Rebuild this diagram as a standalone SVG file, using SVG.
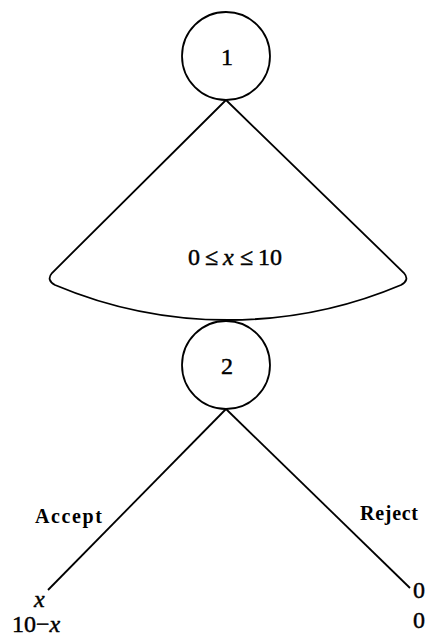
<svg xmlns="http://www.w3.org/2000/svg" width="428" height="642" viewBox="0 0 428 642">
<style>
.ln{fill:none;stroke:#000;stroke-width:1.8}
.nd{fill:#fff;stroke:#000;stroke-width:1.8}
.t{font-family:"Liberation Serif",serif;fill:#000;stroke:#000;stroke-width:0.45;font-size:24px}
.lbl{font-family:"Liberation Serif",serif;font-weight:bold;font-size:20px;fill:#000}
</style>
<rect width="428" height="642" fill="#fff"/>
<g id="connectors">
<path class="ln" d="M226,100 L52,273 Q46,280 55,285 A445,445 0 0 0 401,285 Q410,280 404,273 L226,100"/>
<line class="ln" x1="226" y1="409" x2="48" y2="590"/>
<line class="ln" x1="226" y1="409" x2="410" y2="588"/>
</g>
<g id="node1">
<circle class="nd" cx="226" cy="56" r="44"/>
<text class="t" x="227" y="65" text-anchor="middle">1</text>
</g>
<g id="fan-label">
<text class="t" y="265"><tspan x="188">0</tspan><tspan x="205">≤</tspan><tspan x="223" font-style="italic">x</tspan><tspan x="240">≤</tspan><tspan x="258">10</tspan></text>
</g>
<g id="node2">
<circle class="nd" cx="226" cy="365" r="44"/>
<text class="t" x="227" y="374" text-anchor="middle">2</text>
</g>
<g id="labels">
<text class="lbl" x="35" y="523" textLength="67">Accept</text>
<text class="lbl" x="360" y="520" textLength="58">Reject</text>
<text class="t" x="34" y="607" font-style="italic">x</text>
<text class="t" x="12" y="632">10−<tspan font-style="italic">x</tspan></text>
<text class="t" x="413" y="598">0</text>
<text class="t" x="413" y="628">0</text>
</g>
</svg>
